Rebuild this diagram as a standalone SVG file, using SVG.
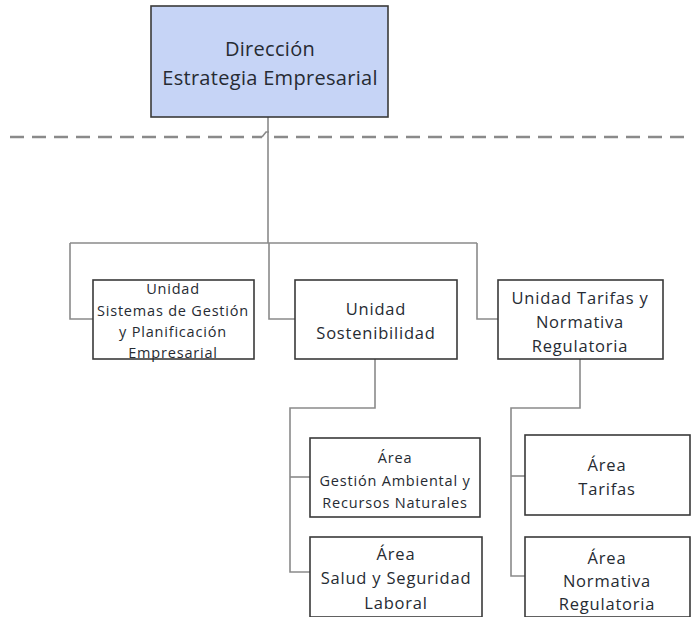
<svg xmlns="http://www.w3.org/2000/svg" width="691" height="617" viewBox="0 0 691 617">
<style>
.box{fill:#ffffff;stroke:#3a3a3a;stroke-width:1.6}
.top{fill:#c6d4f6;stroke:#3a3a3a;stroke-width:1.6}
.c{fill:none;stroke:#8a8a8a;stroke-width:1.6}
.dash{fill:none;stroke:#8a8a8a;stroke-width:2.6;stroke-dasharray:14,8}
text{font-family:"Open Sans","Noto Sans","Liberation Sans",sans-serif;fill:#262b33;text-anchor:middle;dominant-baseline:central}
.t20{font-size:20px;letter-spacing:0.3px}
.t16{font-size:16.5px;letter-spacing:0.8px}
.t14{font-size:14.5px;letter-spacing:0.8px}
</style>
<rect width="691" height="617" fill="#ffffff"/>
<g id="connectors">
<path class="dash" d="M10,137 H262 M274,137 H691"/>
<path class="c" d="M262,137 L266,132 L269,132" stroke-width="2"/>
<path class="c" d="M268,117 V243"/>
<path class="c" d="M70,243 H477"/>
<path class="c" d="M70,243 V319 H93"/>
<path class="c" d="M269,243 V319 H295"/>
<path class="c" d="M477,243 V319 H498"/>
<path class="c" d="M375,359 V408 H290 V572 H310"/>
<path class="c" d="M290,477 H310"/>
<path class="c" d="M580,359 V408 H511 V576 H525"/>
<path class="c" d="M511,476 H525"/>
</g>
<g id="n-direccion">
<rect class="top" x="151" y="6" width="237" height="111"/>
<text class="t20" x="270" y="48">Dirección</text>
<text class="t20" x="270" y="77">Estrategia Empresarial</text>
</g>
<g id="n-sistemas">
<rect class="box" x="93" y="280" width="161" height="79"/>
<text class="t14" x="173" y="288">Unidad</text>
<text class="t14" x="173" y="310">Sistemas de Gestión</text>
<text class="t14" x="173" y="331">y Planificación</text>
<text class="t14" x="173" y="352">Empresarial</text>
</g>
<g id="n-sostenibilidad">
<rect class="box" x="295" y="280" width="162" height="79"/>
<text class="t16" x="376" y="308">Unidad</text>
<text class="t16" x="376" y="332">Sostenibilidad</text>
</g>
<g id="n-tarifas-unidad">
<rect class="box" x="498" y="280" width="165" height="79"/>
<text class="t16" x="580" y="297">Unidad Tarifas y</text>
<text class="t16" x="580" y="321">Normativa</text>
<text class="t16" x="580" y="345">Regulatoria</text>
</g>
<g id="n-gestion-ambiental">
<rect class="box" x="310" y="438" width="170" height="79"/>
<text class="t14" x="395" y="457">Área</text>
<text class="t14" x="395" y="480">Gestión Ambiental y</text>
<text class="t14" x="395" y="502">Recursos Naturales</text>
</g>
<g id="n-salud">
<rect class="box" x="310" y="537" width="172" height="80"/>
<text class="t16" x="396" y="553">Área</text>
<text class="t16" x="396" y="577">Salud y Seguridad</text>
<text class="t16" x="396" y="602">Laboral</text>
</g>
<g id="n-area-tarifas">
<rect class="box" x="525" y="435" width="165" height="80"/>
<text class="t16" x="607" y="464">Área</text>
<text class="t16" x="607" y="488">Tarifas</text>
</g>
<g id="n-area-normativa">
<rect class="box" x="525" y="537" width="165" height="80"/>
<text class="t16" x="607" y="557">Área</text>
<text class="t16" x="607" y="580">Normativa</text>
<text class="t16" x="607" y="603">Regulatoria</text>
</g>
</svg>
